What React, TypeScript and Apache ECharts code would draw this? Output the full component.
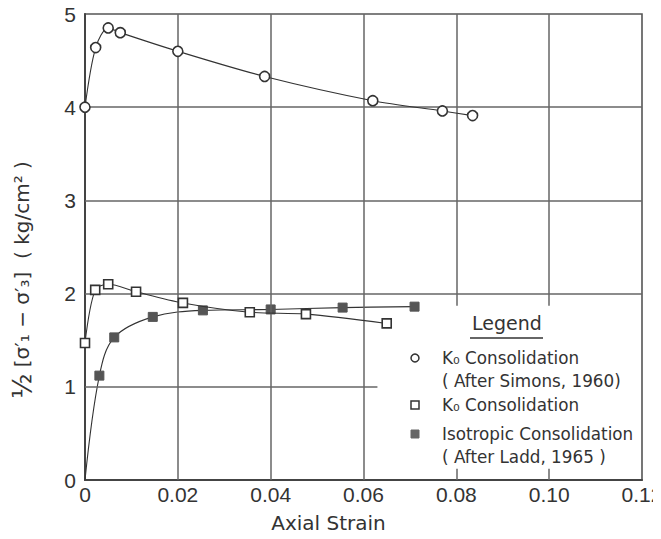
import React, { useEffect, useRef } from "react";
import * as echarts from "echarts";

// Data
const simonsStrain = [0, 0.0023, 0.005, 0.0076, 0.02, 0.0387, 0.062, 0.077, 0.0835];
const simonsStress = [4.0, 4.64, 4.85, 4.8, 4.6, 4.33, 4.07, 3.96, 3.91];

const k0Strain = [0, 0.0022, 0.005, 0.011, 0.0211, 0.0355, 0.0476, 0.065];
const k0Stress = [1.47, 2.04, 2.1, 2.02, 1.9, 1.8, 1.78, 1.68];

const laddStrain = [0, 0.0031, 0.0063, 0.0146, 0.0254, 0.04, 0.0555, 0.071];
const laddStress = [0, 1.12, 1.53, 1.75, 1.82, 1.83, 1.85, 1.86];

const xTicks = [0, 0.02, 0.04, 0.06, 0.08, 0.1, 0.12];
const xTickLabels = ["0", "0.02", "0.04", "0.06", "0.08", "0.10", "0.12"];
const yTickLabels = ["0", "1", "2", "3", "4", "5"];

// Grid segments of the original figure: [x1, y1, x2, y2]
const gridSegments = [
  [0, 1, 0.063, 1],
  [0, 2, 0.12, 2],
  [0, 3, 0.12, 3],
  [0, 4, 0.12, 4],
  [0.02, 0, 0.02, 5],
  [0.04, 0, 0.04, 5],
  [0.06, 0, 0.06, 5],
  [0.08, 1.87, 0.08, 5],
  [0.08, 0, 0.08, 0.12],
  [0.1, 1.87, 0.1, 5],
  [0.1, 0, 0.1, 0.12],
];

const nameSimons = "K₀ Consolidation (After Simons, 1960)";
const nameK0 = "K₀ Consolidation";
const nameLadd = "Isotropic Consolidation (After Ladd, 1965)";

const FONT = "DejaVu Sans";
const TICKFONT = "Liberation Sans";
const INK = "#333";

function pairs(xs: number[], ys: number[]) {
  return xs.map((x, i) => [x, ys[i]]);
}

export default function App() {
  const ref = useRef<HTMLDivElement>(null);
  useEffect(() => {
    if (!ref.current) return;
    const chart = echarts.init(ref.current, null, { renderer: "svg" });
    const openStyle = { color: "#fff", borderColor: INK, borderWidth: 1.6 };
    const lineStyle = { color: INK, width: 1.1 };
    const legendX = 415;
    const textX = 442;
    const legendFont = `16.8px "${FONT}"`;
    chart.setOption({
      animation: false,
      backgroundColor: "#fff",
      grid: {
        left: 85,
        right: 19,
        top: 14,
        bottom: 59,
        outerBoundsMode: "none",
        containLabel: false,
        show: true,
        borderColor: "#555",
        borderWidth: 1.6,
      },
      xAxis: {
        type: "value",
        min: 0,
        max: 0.12,
        interval: 0.02,
        axisLine: { show: true, lineStyle: { color: "#444", width: 2 } },
        axisTick: { show: false },
        splitLine: { show: false },
        axisLabel: {
          margin: 4,
          color: INK,
          fontFamily: TICKFONT,
          fontSize: 21,
          formatter: (v: number) => {
            const i = xTicks.findIndex((t) => Math.abs(t - v) < 1e-9);
            return i >= 0 ? xTickLabels[i] : "";
          },
        },
        name: "Axial Strain",
        nameLocation: "middle",
        nameGap: 33,
        nameTextStyle: {
          color: INK,
          fontFamily: FONT,
          fontSize: 20,
          padding: [0, 70, 0, 0],
        },
      },
      yAxis: {
        type: "value",
        min: 0,
        max: 5,
        interval: 1,
        axisLine: { show: true, lineStyle: { color: "#444", width: 2 } },
        axisTick: { show: false },
        splitLine: { show: false },
        axisLabel: {
          margin: 9,
          color: INK,
          fontFamily: TICKFONT,
          fontSize: 21,
          formatter: (v: number) => yTickLabels[Math.round(v)] ?? "",
        },
      },
      graphic: [
        {
          type: "text",
          x: 22,
          y: 280,
          rotation: Math.PI / 2,
          style: {
            text: "{h|½} [σ′₁ − σ′₃]  ( kg/cm² )",
            font: `20px "${FONT}"`,
            fill: INK,
            align: "center",
            verticalAlign: "middle",
            rich: {
              h: { fontSize: 26, fontFamily: FONT, fill: INK },
            },
          },
        },
        {
          type: "text",
          x: 507,
          y: 323,
          style: {
            text: "Legend",
            font: `19px "${FONT}"`,
            fill: INK,
            align: "center",
            verticalAlign: "middle",
          },
        },
        {
          type: "line",
          shape: { x1: 470, y1: 338, x2: 543, y2: 338 },
          style: { stroke: "#666", lineWidth: 2 },
        },
        {
          type: "circle",
          shape: { cx: legendX, cy: 358, r: 4 },
          style: { fill: "#fff", stroke: INK, lineWidth: 1.5 },
        },
        {
          type: "text",
          x: textX,
          y: 358,
          style: {
            text: "K₀ Consolidation",
            font: legendFont,
            fill: INK,
            verticalAlign: "middle",
          },
        },
        {
          type: "text",
          x: textX,
          y: 381,
          style: {
            text: "( After Simons, 1960)",
            font: legendFont,
            fill: INK,
            verticalAlign: "middle",
          },
        },
        {
          type: "rect",
          shape: { x: legendX - 4, y: 401, width: 8, height: 8 },
          style: { fill: "#fff", stroke: INK, lineWidth: 1.5 },
        },
        {
          type: "text",
          x: textX,
          y: 405,
          style: {
            text: "K₀ Consolidation",
            font: legendFont,
            fill: INK,
            verticalAlign: "middle",
          },
        },
        {
          type: "rect",
          shape: { x: legendX - 4, y: 430, width: 8, height: 8 },
          style: { fill: "#666", stroke: "#666", lineWidth: 1 },
        },
        {
          type: "text",
          x: textX,
          y: 434,
          style: {
            text: "Isotropic Consolidation",
            font: legendFont,
            fill: INK,
            verticalAlign: "middle",
          },
        },
        {
          type: "text",
          x: textX,
          y: 457,
          style: {
            text: "( After Ladd, 1965 )",
            font: legendFont,
            fill: INK,
            verticalAlign: "middle",
          },
        },
      ],
      series: [
        {
          name: "grid",
          type: "line",
          data: [],
          silent: true,
          markLine: {
            silent: true,
            symbol: "none",
            label: { show: false },
            lineStyle: { color: "#666", width: 1.5, type: "solid" },
            data: gridSegments.map((s) => [
              { coord: [s[0], s[1]] },
              { coord: [s[2], s[3]] },
            ]),
          },
        },
        {
          name: nameSimons,
          type: "line",
          smooth: 0.3,
          data: pairs(simonsStrain, simonsStress),
          symbol: "circle",
          symbolSize: 10,
          itemStyle: openStyle,
          lineStyle,
          z: 5,
        },
        {
          name: nameK0,
          type: "line",
          smooth: 0.3,
          data: pairs(k0Strain, k0Stress),
          symbol: "rect",
          symbolSize: 9,
          itemStyle: openStyle,
          lineStyle,
          z: 5,
        },
        {
          name: nameLadd,
          type: "line",
          smooth: 0.35,
          data: pairs(laddStrain, laddStress).map((p, i) =>
            i === 0 ? { value: p, symbol: "none" } : { value: p }
          ),
          symbol: "rect",
          symbolSize: 9,
          itemStyle: { color: "#555", borderColor: "#555", borderWidth: 1 },
          lineStyle,
          z: 4,
        },
      ],
    });
    return () => chart.dispose();
  }, []);
  return <div ref={ref} style={{ width: 661, height: 539, margin: -8 }} />;
}
